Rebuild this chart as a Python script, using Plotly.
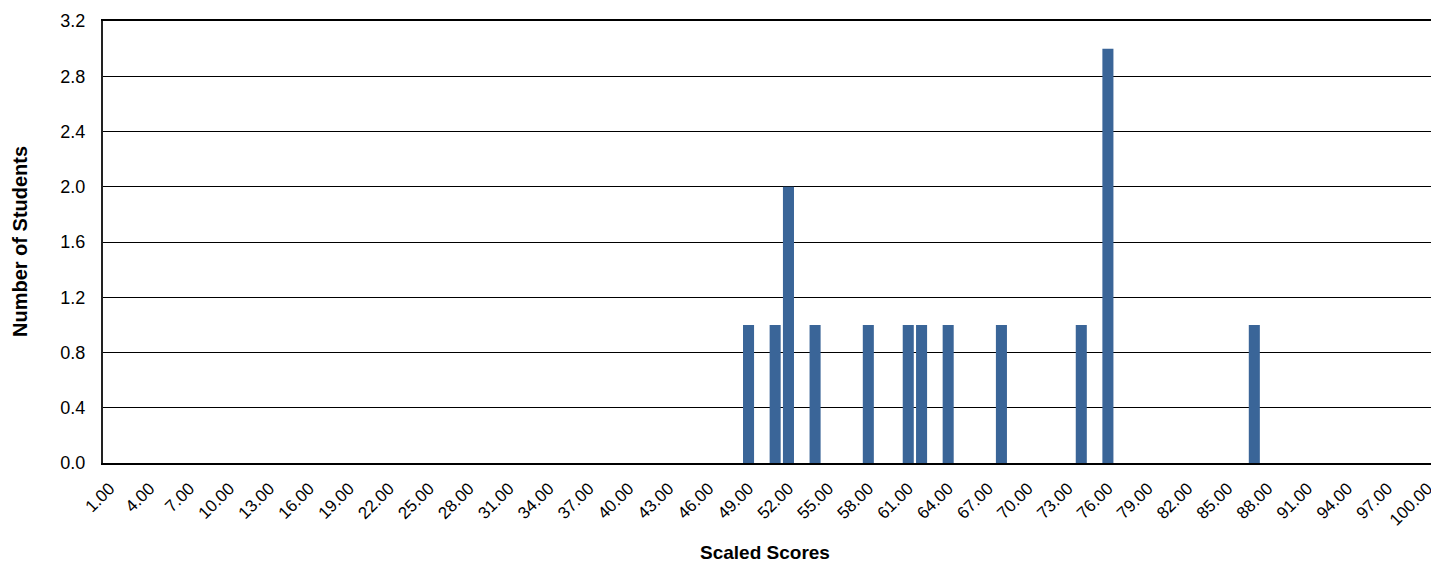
import plotly.graph_objects as go

# Data
scores = [49, 51, 52, 54, 58, 61, 62, 64, 68, 74, 76, 87]
counts = [1, 1, 2, 1, 1, 1, 1, 1, 1, 1, 3, 1]
tick_values = list(range(1, 101, 3))
tick_labels = [f"{v:.2f}" for v in tick_values]
y_ticks = [0.0, 0.4, 0.8, 1.2, 1.6, 2.0, 2.4, 2.8, 3.2]

BAR_COLOR = "#3A6598"
FONT = "Liberation Sans, Arial, sans-serif"

# page has an 8px body margin: figure drawn from (8, 8)
OFF = 8
W, H = 1431, 555
L, R, T, B = 95, 5, 13, 100

plot_w = W - L - R
plot_h = H - T - B


def px_to_paper_x(px):
    return (px - OFF - L) / plot_w


def px_to_paper_y(py):
    return (H - B - (py - OFF)) / plot_h


fig = go.Figure()
fig.add_trace(go.Bar(x=scores, y=counts, marker=dict(color=BAR_COLOR, line=dict(width=0)),
                     showlegend=False))

fig.update_layout(
    width=W, height=H,
    margin=dict(l=L, r=R, t=T, b=B),
    paper_bgcolor="white", plot_bgcolor="white",
    bargap=0.17,
    font=dict(family=FONT, size=16, color="#000"),
    xaxis=dict(
        range=[0.5, 100.5], automargin=False,
        tickmode="array", tickvals=tick_values, ticktext=tick_labels,
        tickangle=-45, tickfont=dict(size=17),
        showgrid=False, zeroline=False,
        showline=True, linecolor="#000", linewidth=2, mirror=True,
        ticks="", ticklabelstandoff=7,
    ),
    yaxis=dict(
        range=[0, 3.2], automargin=False,
        tickmode="array", tickvals=y_ticks, ticktext=[f"{v:.1f}" for v in y_ticks],
        tickfont=dict(size=18),
        showgrid=True, gridcolor="#000", gridwidth=1,
        zeroline=False,
        showline=True, linecolor="#222", linewidth=2, mirror=True,
        ticks="", ticklabelstandoff=12,
    ),
    annotations=[
        dict(text="<b>Scaled Scores</b>", xref="paper", yref="paper",
             x=px_to_paper_x(765), y=px_to_paper_y(552),
             xanchor="center", yanchor="middle",
             showarrow=False, font=dict(size=19, family=FONT)),
        dict(text="<b>Number of Students</b>", textangle=-90, xref="paper", yref="paper",
             x=px_to_paper_x(20), y=px_to_paper_y(242),
             xanchor="center", yanchor="middle",
             showarrow=False, font=dict(size=20, family=FONT)),
    ],
)

fig.write_html("out.html")
